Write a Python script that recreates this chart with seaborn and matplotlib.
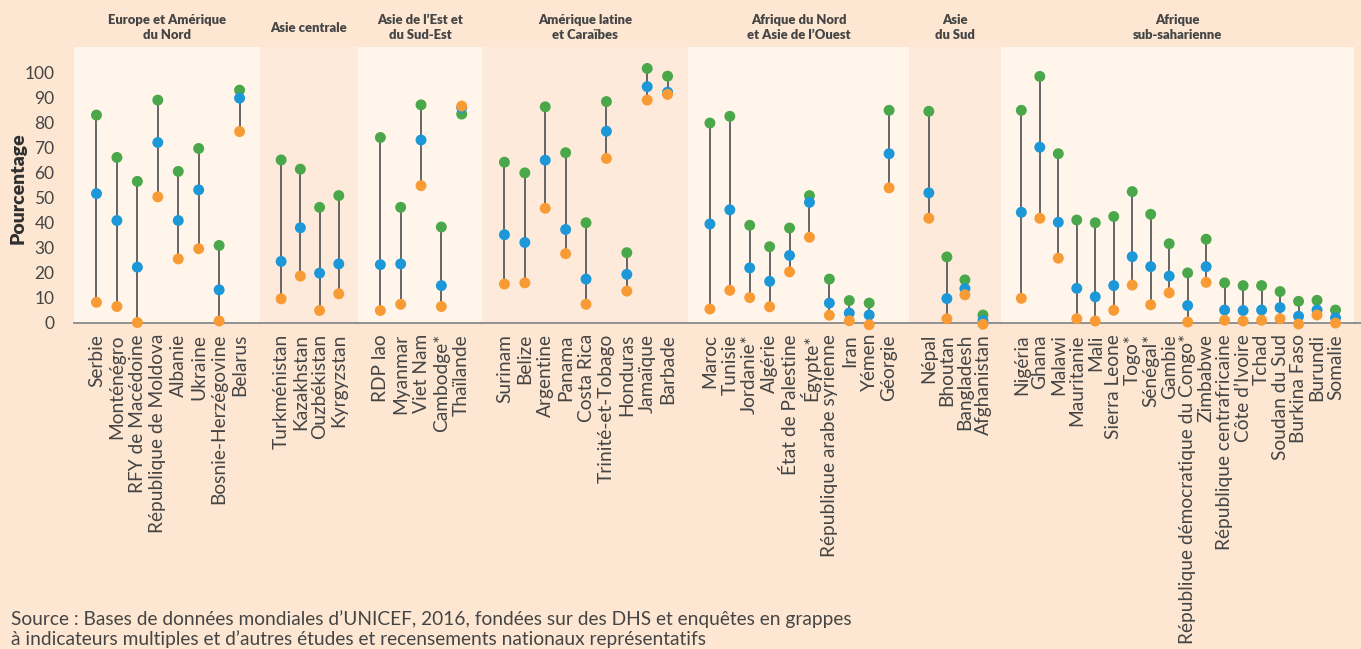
import matplotlib
matplotlib.use("Agg")
import matplotlib.pyplot as plt
from matplotlib.lines import Line2D
import seaborn as sns
import pandas as pd

# regions and their countries (in display order)
regions = ["Europe et Amérique\ndu Nord", "Asie centrale", "Asie de l\u2019Est et\ndu Sud-Est",
           "Amérique latine\net Caraïbes", "Afrique du Nord\net Asie de l\u2019Ouest", "Asie\ndu Sud",
           "Afrique\nsub-saharienne"]
region_sizes = [8, 4, 5, 9, 10, 4, 18]

countries = [
    "Serbie", "Monténégro", "RFY de Macédoine", "République de Moldova", "Albanie", "Ukraine",
    "Bosnie-Herzégovine", "Belarus",
    "Turkménistan", "Kazakhstan", "Ouzbékistan", "Kyrgyzstan",
    "RDP lao", "Myanmar", "Viet Nam", "Cambodge*", "Thaïlande",
    "Surinam", "Belize", "Argentine", "Panama", "Costa Rica", "Trinité-et-Tobago", "Honduras",
    "Jamaïque", "Barbade",
    "Maroc", "Tunisie", "Jordanie*", "Algérie", "État de Palestine", "Égypte*",
    "République arabe syrienne", "Iran", "Yémen", "Géorgie",
    "Népal", "Bhoutan", "Bangladesh", "Afghanistan",
    "Nigéria", "Ghana", "Malawi", "Mauritanie", "Mali", "Sierra Leone", "Togo*", "Sénégal*",
    "Gambie", "République démocratique du Congo*", "Zimbabwe", "République centrafricaine",
    "Côte d\u2019Ivoire", "Tchad", "Soudan du Sud", "Burkina Faso", "Burundi", "Somalie",
]

# green (highest), blue (middle), orange (lowest) values
vert = [83.0, 66.0, 56.4, 89.0, 60.4, 69.6, 30.7, 93.0,
        65.0, 61.3, 46.0, 50.7,
        74.0, 46.0, 87.1, 38.1, 83.4,
        64.1, 59.8, 86.3, 67.9, 39.8, 88.4, 27.8, 101.7, 98.6,
        79.8, 82.5, 38.8, 30.2, 37.7, 50.7, 17.2, 8.6, 7.6, 84.9,
        84.5, 26.1, 16.9, 2.8,
        84.9, 98.5, 67.5, 40.9, 39.8, 42.3, 52.3, 43.2, 31.4, 19.7, 33.2, 15.7,
        14.6, 14.6, 12.2, 8.3, 8.7, 4.8]
bleu = [51.5, 40.7, 22.0, 72.0, 40.7, 53.0, 12.9, 89.8,
        24.3, 37.8, 19.6, 23.3,
        23.0, 23.3, 73.0, 14.6, 86.0,
        35.0, 31.9, 64.9, 37.1, 17.2, 76.5, 19.1, 94.4, 92.2,
        39.3, 45.0, 21.7, 16.3, 26.7, 48.0, 7.6, 3.6, 2.8, 67.5,
        51.8, 9.4, 13.4, 0.6,
        44.0, 70.1, 40.0, 13.5, 10.1, 14.6, 26.2, 22.2, 18.4, 6.6, 22.2, 4.8,
        4.6, 4.8, 5.8, 2.3, 4.8, 1.7]
orange = [7.9, 6.2, -0.2, 50.2, 25.3, 29.4, 0.4, 76.4,
          9.3, 18.4, 4.6, 11.3,
          4.6, 7.1, 54.7, 6.2, 86.6,
          15.2, 15.7, 45.6, 27.4, 7.1, 65.6, 12.4, 89.0, 91.3,
          5.2, 12.7, 9.8, 6.1, 20.1, 34.0, 2.7, 0.5, -1.1, 53.8,
          41.6, 1.3, 10.9, -0.9,
          9.5, 41.6, 25.6, 1.3, 0.4, 4.7, 14.8, 6.9, 11.7, 0.0, 15.9, 0.7,
          0.4, 0.7, 1.3, -0.8, 2.8, -0.4]

# panel widths in pixels (for proportions)
panel_widths = [186, 98, 124, 206, 221, 92, 353]

BG = "#fde7d2"
LIGHT = "#fff5ea"
DARK = "#fdeadb"
TEXT = "#454545"
palette = {"vert": "#4aa84a", "bleu": "#1c97d8", "orange": "#f89b35"}

sns.set_theme(style="white")
plt.rcParams["font.family"] = ["Lato", "DejaVu Sans"]

df = pd.DataFrame({"pays": countries, "vert": vert, "bleu": bleu, "orange": orange})
df["region"] = [r for r, n in zip(regions, region_sizes) for _ in range(n)]
df["pos"] = [i for n in region_sizes for i in range(n)]

fig, axes = plt.subplots(1, len(regions), figsize=(13.61, 6.49), dpi=100, sharey=True,
                         gridspec_kw={"width_ratios": panel_widths, "wspace": 0})
fig.patch.set_facecolor(BG)
fig.subplots_adjust(left=74 / 1361, right=1354 / 1361, top=1 - 47 / 649, bottom=1 - 323 / 649)

for k, (ax, region) in enumerate(zip(axes, regions)):
    sub = df[df["region"] == region]
    ax.set_facecolor(LIGHT if k % 2 == 0 else DARK)

    # min-max range line
    lo = sub[["vert", "bleu", "orange"]].min(axis=1)
    hi = sub[["vert", "bleu", "orange"]].max(axis=1)
    ax.vlines(sub["pos"], lo, hi, color="#5a5a5a", lw=1.3, zorder=2)

    long = sub.melt(id_vars=["pos"], value_vars=["vert", "bleu", "orange"],
                    var_name="serie", value_name="valeur")
    sns.scatterplot(data=long, x="pos", y="valeur", hue="serie", palette=palette,
                    s=62, linewidth=0, legend=False, ax=ax, zorder=3, clip_on=False)

    n = len(sub)
    ax.set_xlim(-1.1, n - 1 + 1.0)
    ax.set_ylim(-0.4, 110.3)
    ax.set_xticks(range(n))
    ax.set_xticklabels(sub["pays"], rotation=90, fontsize=13.8, color=TEXT)
    ax.tick_params(axis="x", length=0, pad=8)
    ax.tick_params(axis="y", length=0, pad=14, labelsize=12.5, labelcolor=TEXT)
    ax.set_xlabel("")
    ax.set_ylabel("")
    for side in ["top", "right", "left"]:
        ax.spines[side].set_visible(False)
    ax.spines["bottom"].set_color("#8a8a8a")
    ax.spines["bottom"].set_linewidth(1.3)

    ax.text(0.5, 1.069, region, transform=ax.transAxes, ha="center", va="center",
            fontsize=9.4, fontweight="heavy", color=TEXT, linespacing=1.3)

axes[0].set_yticks(range(0, 101, 10))

# axis line runs out to the right edge of the figure
y0 = 1 - 322.6 / 649
fig.add_artist(Line2D([1354 / 1361, 1.0], [y0, y0], color="#8a8a8a", lw=1.3))

fig.text(18 / 1361, 1 - 188 / 649, "Pourcentage", rotation=90, ha="center", va="center",
         fontsize=14, fontweight="heavy", color="#2f2f2f")

fig.text(11 / 1361, 1 / 649,
         "Source : Bases de données mondiales d\u2019UNICEF, 2016, fondées sur des DHS et enquêtes en grappes\n"
         "à indicateurs multiples et d\u2019autres études et recensements nationaux représentatifs",
         ha="left", va="bottom", fontsize=13.8, color=TEXT, linespacing=1.15)

fig.savefig("out.png", dpi=100, facecolor=BG)
